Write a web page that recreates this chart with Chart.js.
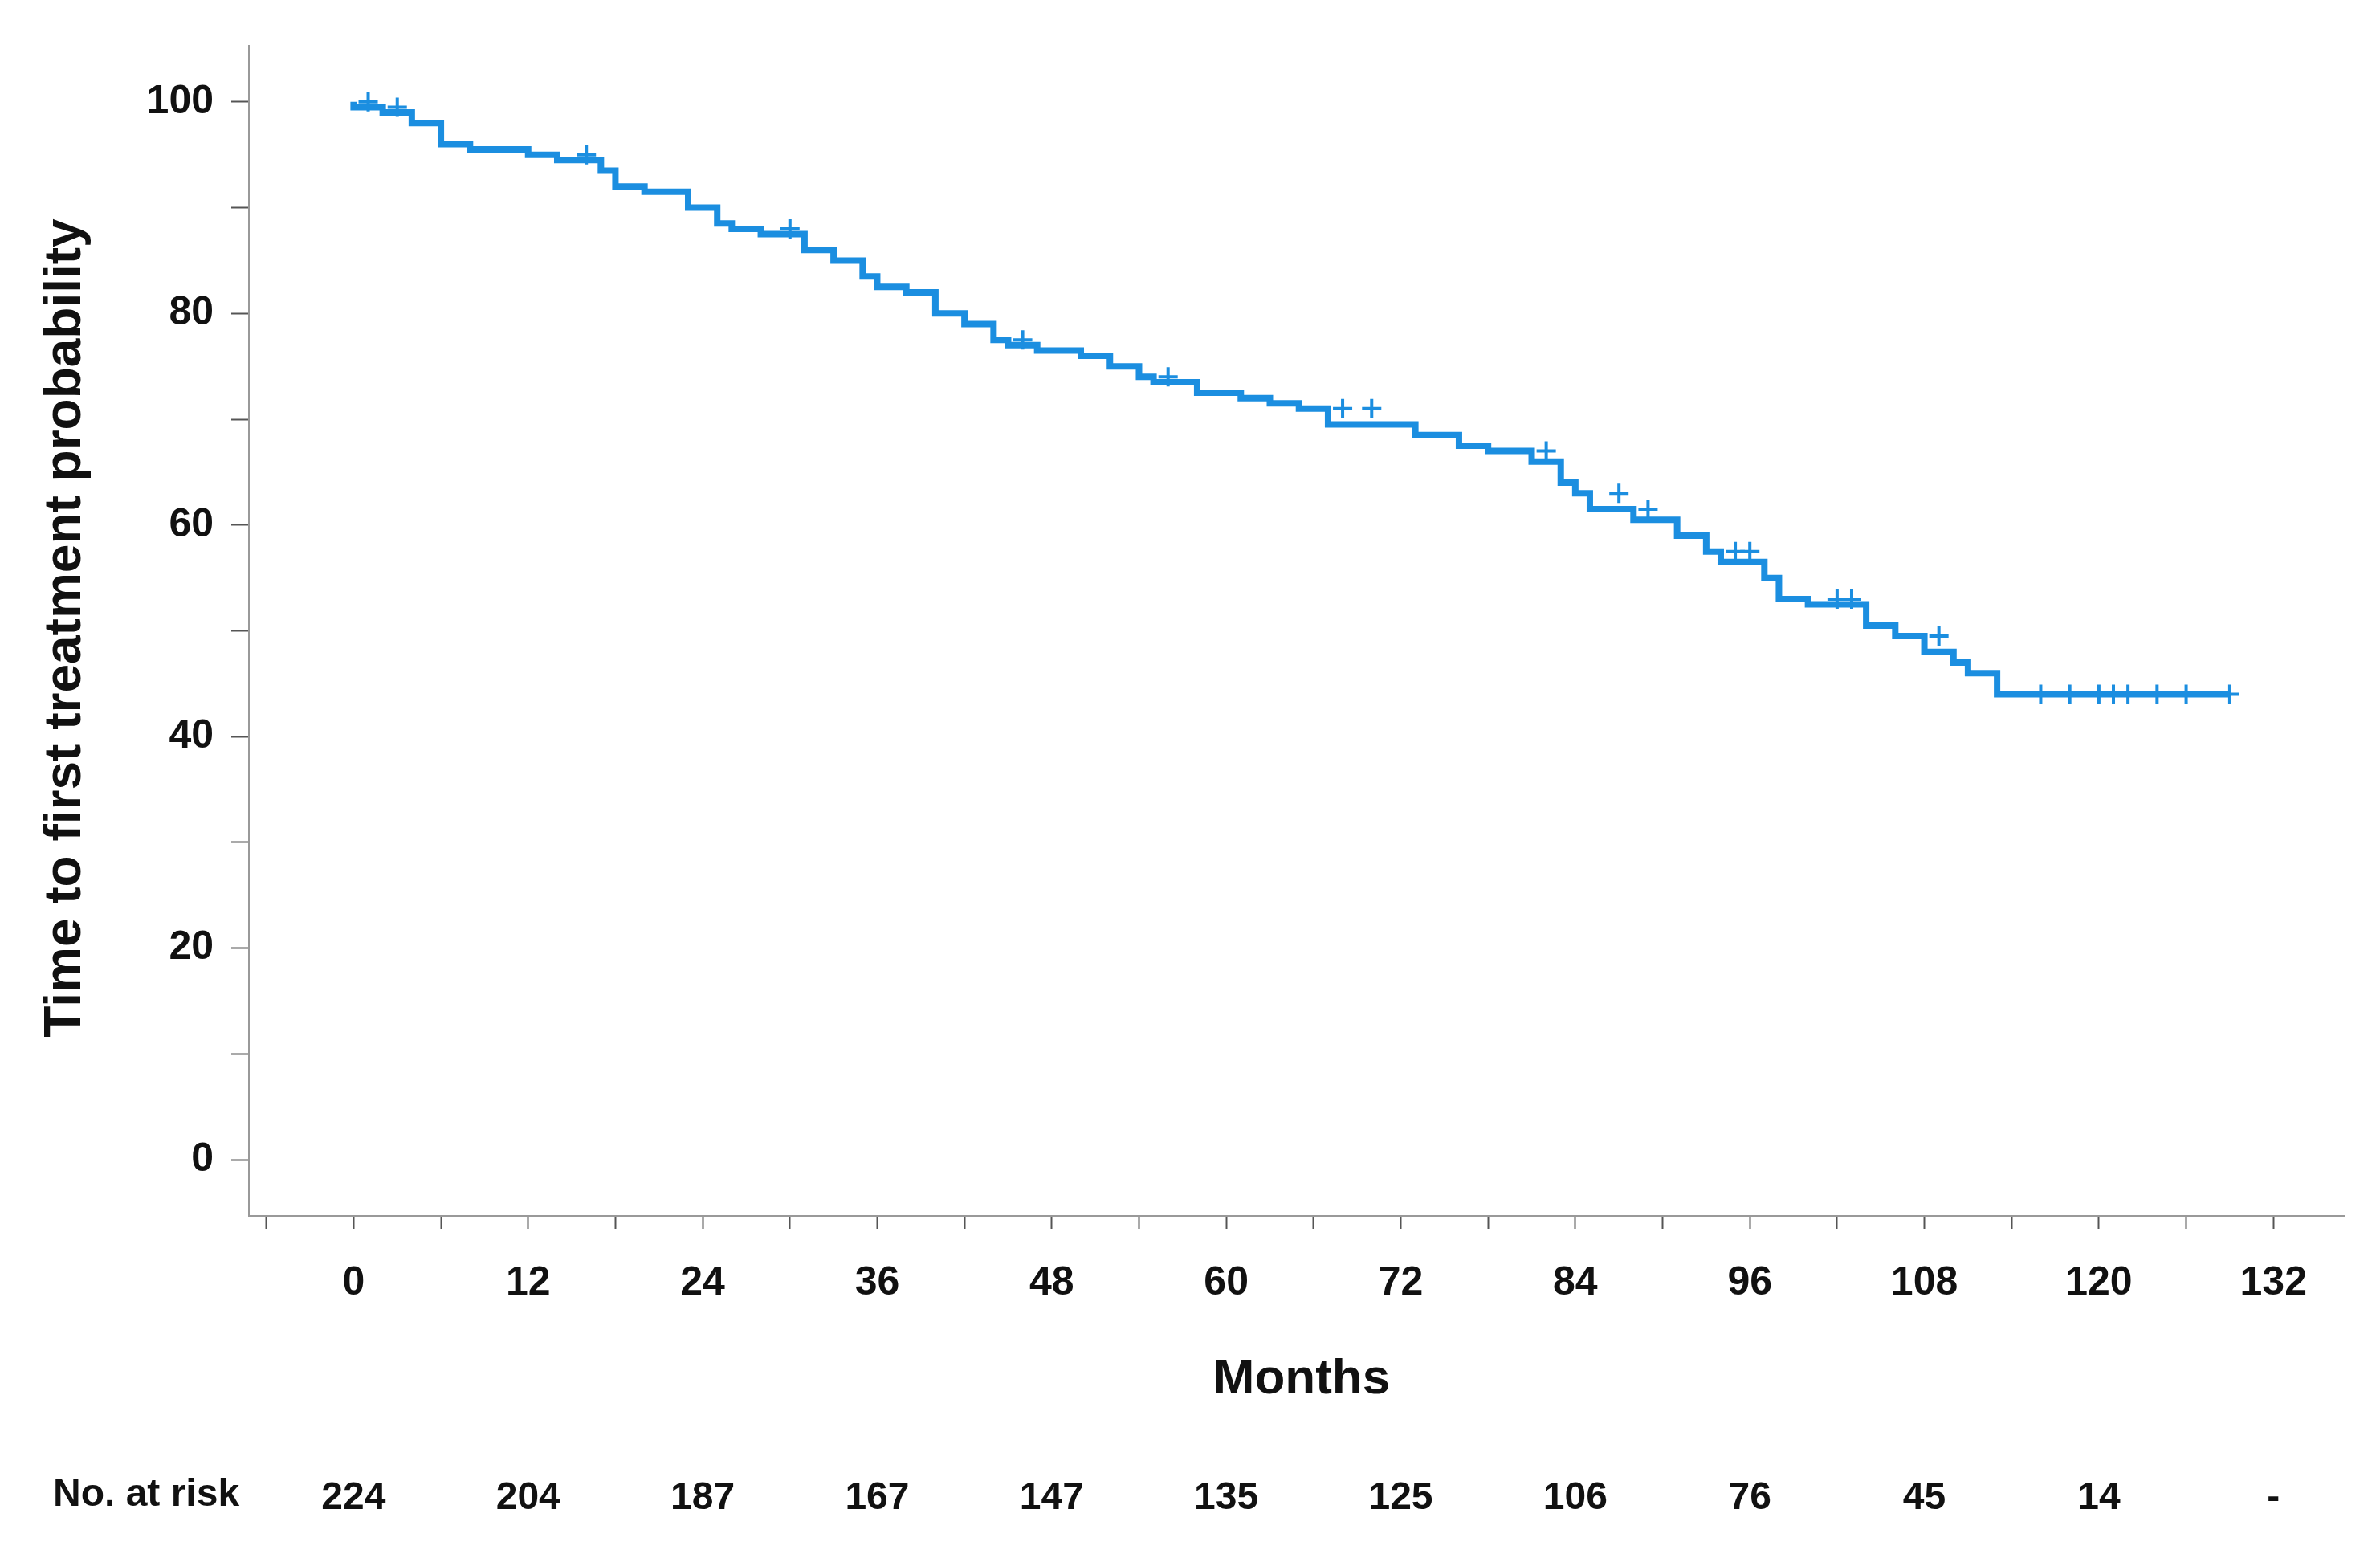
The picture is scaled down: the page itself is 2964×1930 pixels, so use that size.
<!DOCTYPE html>
<html>
<head>
<meta charset="utf-8">
<script src="https://cdn.jsdelivr.net/npm/chart.js@4"></script>
<style>
  html, body { margin: 0; padding: 0; background: #fff; }
  #km { display: block; }
</style>
</head>
<body>
<canvas id="km" width="2964" height="1930"></canvas>
<script>
// Kaplan-Meier step points (month, survival %)
const stepMonths = [0, 2, 4, 6, 8, 12, 14, 17, 18, 20, 23, 25, 26, 28, 31, 33, 35, 36, 38, 40, 42, 44, 45, 47, 50, 52, 54, 55, 58, 61, 63, 65, 67, 73, 76, 78, 81, 83, 84, 85, 88, 91, 93, 94, 97, 98, 100, 104, 106, 108, 110, 111, 113, 114, 129];
const stepValues = [100, 99.5, 99, 98, 96, 95.5, 95, 94.5, 93.5, 92, 91.5, 90, 88.5, 88, 87.5, 86, 85, 83.5, 82.5, 82, 80, 79, 77.5, 77, 76.5, 76, 75, 74, 73.5, 72.5, 72, 71.5, 71, 69.5, 68.5, 67.5, 67, 66, 64, 63, 61.5, 60.5, 59, 57.5, 56.5, 55, 53, 52.5, 50.5, 49.5, 48, 47, 46, 44, 44];
// censoring marks (months)
const censorMonths = [1, 3, 16, 30, 46, 56, 68, 70, 82, 87, 89, 95, 96, 102, 103, 109, 116, 118, 120, 121, 122, 124, 126, 129];

const riskMonths = [0, 12, 24, 36, 48, 60, 72, 84, 96, 108, 120, 132];
const riskCounts = ["224", "204", "187", "167", "147", "135", "125", "106", "76", "45", "14", "-"];

const blue = "#1b8ee0";
const font = "'Liberation Sans', Arial, sans-serif";

let survivalAt = (t) => {
  let v = stepValues[0];
  for (let i = 0; i < stepMonths.length; i++) {
    if (stepMonths[i] <= t) v = stepValues[i];
  }
  return v;
};

// axis titles and the risk table are drawn by hand so they sit where the reference has them
const extraText = {
  id: "extraText",
  afterDraw(chart) {
    const ctx = chart.ctx;
    const x = chart.scales.x;
    ctx.save();
    ctx.fillStyle = "#111";
    ctx.textBaseline = "middle";

    ctx.textAlign = "center";
    ctx.font = "bold 62px " + font;
    ctx.fillText("Months", 1621, 1718);

    ctx.save();
    ctx.translate(82, 782);
    ctx.rotate(-Math.PI / 2);
    ctx.font = "bold 64px " + font;
    ctx.fillText("Time to first treatment probability", 0, 0);
    ctx.restore();

    ctx.font = "bold 48px " + font;
    ctx.textAlign = "left";
    ctx.fillText("No. at risk", 66, 1862);
    ctx.textAlign = "center";
    riskMonths.forEach((m, i) => {
      ctx.fillText(riskCounts[i], x.getPixelForValue(m), 1866);
    });
    ctx.restore();
  },
};

new Chart(document.getElementById("km").getContext("2d"), {
  type: "line",
  data: {
    datasets: [
      {
        data: stepMonths.map((m, i) => ({ x: m, y: stepValues[i] })),
        borderColor: blue,
        borderWidth: 8,
        stepped: "after",
        pointRadius: 0,
        fill: false,
      },
      {
        type: "scatter",
        data: censorMonths.map((m) => ({ x: m, y: survivalAt(m) })),
        pointStyle: "cross",
        pointRadius: 12,
        borderColor: blue,
        borderWidth: 4,
      },
    ],
  },
  options: {
    responsive: false,
    animation: false,
    devicePixelRatio: 1,
    layout: { padding: { top: 57, right: 44, left: 0, bottom: 0 } },
    plugins: { legend: { display: false }, tooltip: { enabled: false } },
    scales: {
      x: {
        type: "linear",
        min: -7.2,
        max: 136.9,
        afterBuildTicks: (s) => {
          const t = [];
          for (let v = -6; v <= 132; v += 6) t.push({ value: v });
          s.ticks = t;
        },
        afterFit: (s) => { s.height = 416; },
        border: { color: "#999", width: 2 },
        grid: { drawOnChartArea: false, tickLength: 16, color: "#555", tickWidth: 2 },
        ticks: {
          autoSkip: false,
          maxRotation: 0,
          padding: 38,
          color: "#111",
          font: { family: font, size: 50, weight: "bold" },
          callback: (v) => (v >= 0 && v % 12 === 0 ? v : ""),
        },
      },
      y: {
        min: -5.3,
        max: 105.3,
        afterBuildTicks: (s) => {
          const t = [];
          for (let v = 0; v <= 100; v += 10) t.push({ value: v });
          s.ticks = t;
        },
        afterFit: (s) => { s.width = 310; },
        border: { color: "#999", width: 2 },
        grid: { drawOnChartArea: false, tickLength: 22, color: "#555", tickWidth: 2 },
        ticks: {
          autoSkip: false,
          padding: 22,
          color: "#111",
          font: { family: font, size: 50, weight: "bold" },
          callback: (v) => (v % 20 === 0 ? v : ""),
        },
      },
    },
  },
  plugins: [extraText],
});
</script>
</body>
</html>
